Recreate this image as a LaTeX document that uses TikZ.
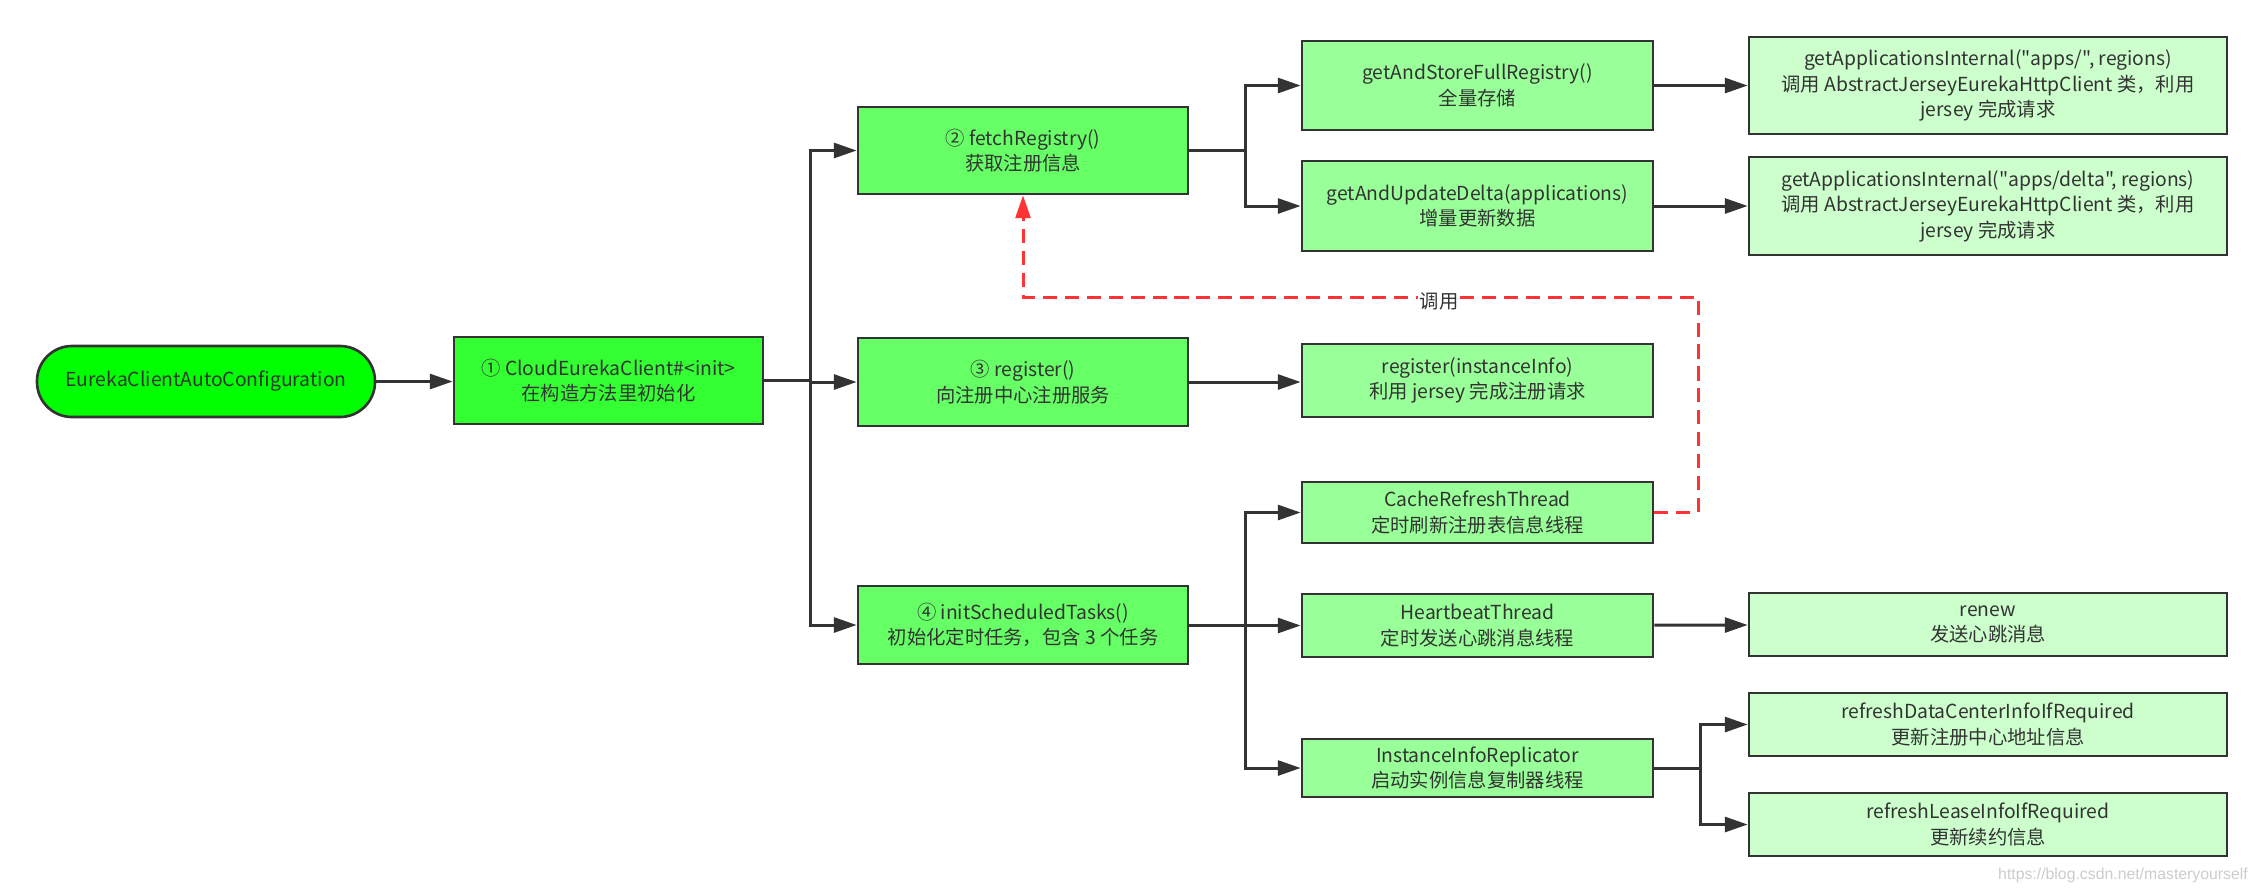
\documentclass[tikz,border=0pt]{standalone}
\usepackage{fontspec}
\setmainfont{Noto Sans CJK SC}[Ligatures=TeXOff]
\newfontfamily\wmfont{Liberation Sans}
\usetikzlibrary{arrows.meta}
\definecolor{edge}{HTML}{333333}
\definecolor{startc}{HTML}{00FF00}
\definecolor{initc}{HTML}{33FF33}
\definecolor{stepc}{HTML}{66FF66}
\definecolor{taskc}{HTML}{99FF99}
\definecolor{leafc}{HTML}{CCFFCC}
\definecolor{callc}{HTML}{FF3333}

\begin{document}
\begin{tikzpicture}[x=0.02cm, y=-0.02cm,
  every node/.style={text=edge, font=\fontsize{11}{14.5}\selectfont, align=center},
  box/.style={draw=edge, line width=1.5pt, inner sep=0pt},
  sz/.style 2 args={minimum width=#1*0.02cm, minimum height=#2*0.02cm},
  link/.style={draw=edge, line width=1.7pt},
  arr/.style={link, -{Triangle[length=13pt,width=8.5pt]}},
  call/.style={draw=callc, line width=1.7pt, dash pattern=on 8pt off 4.5pt,
    -{Triangle[length=13pt,width=8.5pt]}}]
 \useasboundingbox (0,0) rectangle (2264,894);

 % trunks
 \coordinate (j1) at (810,0);
 \coordinate (j2) at (1245,0);
 \coordinate (j3) at (1700,0);
 \coordinate (c1) at (1698,297);

 \node[box, fill=startc, sz={338}{71}, rounded corners=0.7cm] (start) at (206,381.5) {EurekaClientAutoConfiguration};
 \node[box, fill=initc, sz={309}{87}] (init) at (608.5,380.5) {① CloudEurekaClient\#<init>\\在构造方法里初始化};

 \node[box, fill=stepc, sz={330}{87}] (fetch) at (1023,150.5) {② fetchRegistry()\\获取注册信息};
 \node[box, fill=stepc, sz={330}{88}] (reg) at (1023,382) {③ register()\\向注册中心注册服务};
 \node[box, fill=stepc, sz={330}{78}] (tasks) at (1023,625) {④ initScheduledTasks()\\初始化定时任务，包含 3 个任务};

 \node[box, fill=taskc, sz={351}{89}] (full) at (1477.5,85.5) {getAndStoreFullRegistry()\\全量存储};
 \node[box, fill=taskc, sz={351}{90}] (delta) at (1477.5,206) {getAndUpdateDelta(applications)\\增量更新数据};
 \node[box, fill=taskc, sz={351}{73}] (reginfo) at (1477.5,380.5) {register(instanceInfo)\\利用 jersey 完成注册请求};
 \node[box, fill=taskc, sz={351}{61}] (cache) at (1477.5,512.5) {CacheRefreshThread\\定时刷新注册表信息线程};
 \node[box, fill=taskc, sz={351}{63}] (beat) at (1477.5,625.5) {HeartbeatThread\\定时发送心跳消息线程};
 \node[box, fill=taskc, sz={351}{58}] (repl) at (1477.5,768) {InstanceInfoReplicator\\启动实例信息复制器线程};

 \node[box, fill=leafc, sz={478}{97}] (appsall) at (1988,85.5) {getApplicationsInternal("apps/", regions)\\调用 AbstractJerseyEurekaHttpClient 类，利用\\jersey 完成请求};
 \node[box, fill=leafc, sz={478}{98}] (appsdelta) at (1988,206) {getApplicationsInternal("apps/delta", regions)\\调用 AbstractJerseyEurekaHttpClient 类，利用\\jersey 完成请求};
 \node[box, fill=leafc, sz={478}{63}] (renew) at (1988,624.5) {renew\\发送心跳消息};
 \node[box, fill=leafc, sz={478}{63}] (dcinfo) at (1988,724.5) {refreshDataCenterInfoIfRequired\\更新注册中心地址信息};
 \node[box, fill=leafc, sz={478}{63}] (lease) at (1988,824.5) {refreshLeaseInfoIfRequired\\更新续约信息};

 \draw[arr] (start.east) -- (start.east -| init.west);
 \draw[link] (init.east) -- (init.east -| j1);
 \foreach \n in {fetch,reg,tasks}
   \draw[arr] (init.east -| j1) |- (\n.west);

 \draw[link] (fetch.east) -- (fetch.east -| j2);
 \foreach \n in {full,delta}
   \draw[arr] (fetch.east -| j2) |- (\n.west);
 \draw[arr] (full) -- (appsall);
 \draw[arr] (delta) -- (appsdelta);

 \draw[arr] (reg.east) -- (reg.east -| reginfo.west);

 \draw[link] (tasks.east) -- (tasks.east -| j2);
 \foreach \n in {cache,beat,repl}
   \draw[arr] (tasks.east -| j2) |- (\n.west);
 \draw[arr] (beat) -- (renew);
 \draw[link] (repl.east) -- (repl.east -| j3);
 \foreach \n in {dcinfo,lease}
   \draw[arr] (repl.east -| j3) |- (\n.west);

 % call back
 \draw[call] (cache.east) -| (c1) -| (fetch.south);
 \node[fill=white, inner sep=1pt] (calllbl) at (1439,301) {调用};

 \node[font=\wmfont\fontsize{9}{11}\selectfont, text=gray!40, anchor=east] (mark) at (2254,875) {https://blog.csdn.net/masteryourself};
\end{tikzpicture}
\end{document}
